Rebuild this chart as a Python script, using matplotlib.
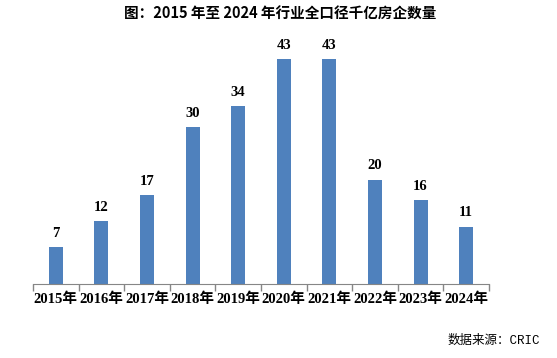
import numpy as np
import matplotlib.pyplot as plt

# 数据
years = ['2015年', '2016年', '2017年', '2018年', '2019年',
         '2020年', '2021年', '2022年', '2023年', '2024年']
counts = [7, 12, 17, 30, 34, 43, 43, 20, 16, 11]

fuentes = ['Liberation Serif', 'Noto Sans CJK SC']
plt.rcParams['font.family'] = fuentes

fig = plt.figure(figsize=(5.57, 3.58), dpi=100)
ax = fig.add_axes([0.0592, 0.2067, 0.8187, 0.6563])

x = np.arange(len(years))
ax.bar(x, counts, width=0.31, color='#4F81BD', zorder=2)

for xi, v in zip(x, counts):
    ax.text(xi, v + 1.4, str(v), ha='center', va='bottom',
            fontsize=10.5, fontweight='bold')

ax.set_xlim(-0.5, len(years) - 0.5)
ax.set_ylim(0, 45)

# eje x con marcas en los bordes de categoría
ax.set_xticks(np.arange(-0.5, len(years), 1.0))
ax.set_xticklabels([])
ax.set_xticks(x, minor=True)
ax.set_xticklabels(years, minor=True, fontsize=10.5, fontweight='bold')
ax.tick_params(axis='x', which='major', length=5, color='#868686', width=1)
ax.tick_params(axis='x', which='minor', length=0, pad=6)
ax.set_yticks([])
for s in ['top', 'right', 'left']:
    ax.spines[s].set_visible(False)
ax.spines['bottom'].set_color('#868686')

fig.text(0.503, 0.963, '图：2015 年至 2024 年行业全口径千亿房企数量',
         ha='center', va='center', fontsize=10.5, fontweight='bold',
         family=['Noto Sans CJK SC'])
fig.text(0.97, 0.048, '数据来源：CRIC', ha='right', va='center',
         fontsize=9, family=['Liberation Mono', 'Noto Sans CJK SC'])

fig.savefig('out.png', dpi=100)
